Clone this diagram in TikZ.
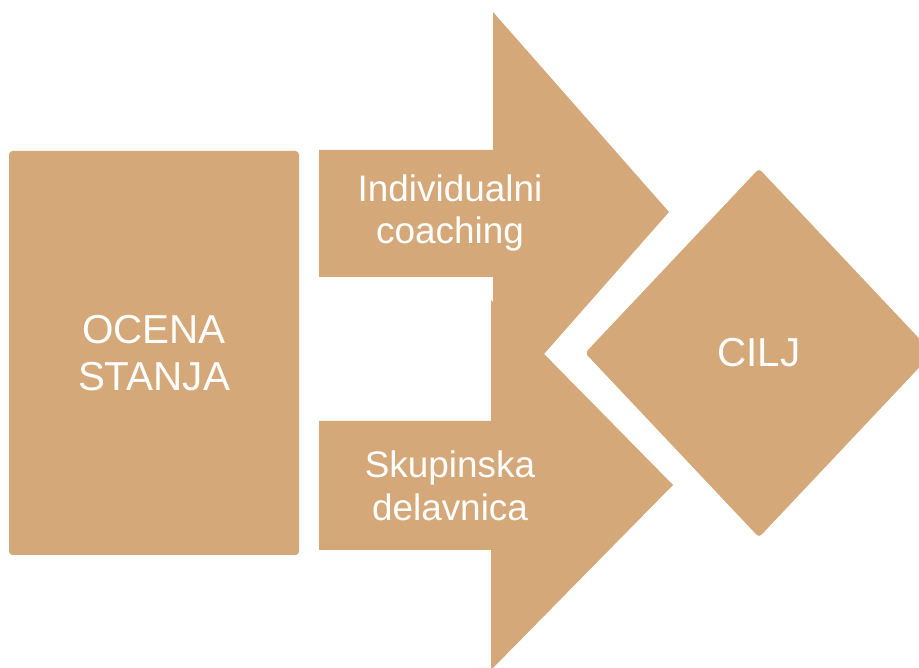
\documentclass[tikz,border=0pt]{standalone}
\usepackage{fontspec}
\setmainfont{Liberation Sans}
\usetikzlibrary{shapes.geometric}
\definecolor{sand}{RGB}{213,168,121}

\begin{document}
\begin{tikzpicture}[
    stateblock/.style={rectangle, fill=sand, rounded corners=2pt, minimum width=5.8cm, minimum height=8.08cm, text=white, align=center, font=\fontsize{23}{26.8}\selectfont},
    goalblock/.style={diamond, fill=sand, rounded corners=2pt, inner sep=0pt, minimum width=6.96cm, minimum height=7.38cm, text=white, font=\fontsize{23}{26.8}\selectfont},
    arrowfill/.style={fill=sand},
    arrowtext/.style={text=white, align=center, font=\fontsize{21}{24.2}\selectfont},
]
\useasboundingbox (0, 0) rectangle (18.38, 13.36);

% Starting block
\node[stateblock] (ocena) at (3.08, 6.30) {OCENA\\STANJA};

% Upper arrow
\fill[arrowfill] (6.38, 10.36) -- (9.86, 10.36) -- (9.86, 13.12) -- (13.38, 9.12)
    -- (9.86, 5.12) -- (9.86, 7.82) -- (6.38, 7.82) -- cycle;
\node[arrowtext] (coaching) at (9.00, 9.10) {Individualni\\coaching};

% Lower arrow
\fill[arrowfill] (6.38, 4.94) -- (9.82, 4.94) -- (9.82, 7.36) -- (13.46, 3.66)
    -- (9.82, -0.04) -- (9.82, 2.36) -- (6.38, 2.36) -- cycle;
\node[arrowtext] (delavnica) at (9.00, 3.64) {Skupinska\\delavnica};

% Goal
\node[goalblock] (cilj) at (15.18, 6.30) {CILJ};

\end{tikzpicture}
\end{document}
